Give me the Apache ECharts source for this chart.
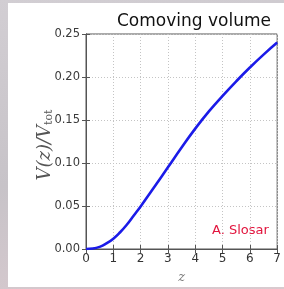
<!DOCTYPE html>
<html lang="en">
<head>
    <meta charset="UTF-8">
    <title>Comoving volume</title>
    <script src="https://cdn.jsdelivr.net/npm/echarts@6/dist/echarts.min.js"></script>
    <style>
        html, body { margin: 0; padding: 0; }
        body {
            width: 284px; height: 289px; overflow: hidden; position: relative;
            background: linear-gradient(170deg, #d2ced3 0%, #c7c3c8 55%, #d9cacf 100%);
        }
        #card { position: absolute; left: 8px; top: 3px; width: 280px; height: 284px; background: #fff; }
        #main { position: absolute; left: 0; top: 0; width: 284px; height: 289px; }
    </style>
</head>
<body>
    <div id="card"></div>
    <div id="main"></div>
    <script>
        var myChart = echarts.init(document.getElementById('main'));

        // redshift and volume fraction
        var zValues = [0, 0.25, 0.5, 0.75, 1, 1.25, 1.5, 1.75, 2, 2.5, 3, 3.5, 4, 4.5, 5, 5.5, 6, 6.5, 7];
        var volFrac = [0, 0.0005, 0.0025, 0.0065, 0.012, 0.0195, 0.0285, 0.039, 0.0495, 0.072, 0.095, 0.118, 0.140, 0.160, 0.178, 0.195, 0.211, 0.226, 0.240];

        var points = [];
        for (var i = 0; i < zValues.length; i++) {
            points.push([zValues[i], volFrac[i]]);
        }

        var gridLine = { show: true, lineStyle: { color: '#c4c4c4', type: [1, 2], width: 1 } };

        var option = {
            animation: false,
            title: {
                text: 'Comoving volume',
                left: 112,
                top: 8,
                textStyle: { fontFamily: 'DejaVu Sans', fontSize: 17, fontWeight: 'normal', color: '#111' }
            },
            grid: {
                left: 86, top: 34, right: 1, bottom: 38,
                show: true, borderColor: '#555', borderWidth: 1
            },
            xAxis: [{
                type: 'value', min: 0, max: 7, interval: 1,
                axisLine: { show: true, lineStyle: { color: '#555' } },
                axisTick: { show: true, inside: true, length: 4, lineStyle: { color: '#555' } },
                axisLabel: { color: '#333', fontSize: 12, fontFamily: 'DejaVu Sans', margin: 4 },
                splitLine: gridLine,
                name: 'z',
                nameLocation: 'middle',
                nameGap: 22,
                nameTextStyle: { fontFamily: 'DejaVu Serif', fontStyle: 'italic', fontSize: 13, color: '#777' }
            }, {
                type: 'value', min: 0, max: 7, interval: 1, position: 'top',
                axisLine: { show: true, lineStyle: { color: '#555' } },
                axisTick: { show: true, inside: true, length: 4, lineStyle: { color: '#555' } },
                axisLabel: { show: false },
                splitLine: { show: false }
            }],
            yAxis: [{
                type: 'value', min: 0, max: 0.25, interval: 0.05,
                axisLine: { show: true, lineStyle: { color: '#555' } },
                axisTick: { show: true, inside: true, length: 4, lineStyle: { color: '#555' } },
                axisLabel: {
                    color: '#3a3a3a', fontSize: 11.5, fontFamily: 'DejaVu Sans', margin: 6,
                    formatter: function (v) { return v.toFixed(2); }
                },
                splitLine: gridLine
            }, {
                type: 'value', min: 0, max: 0.25, interval: 0.05, position: 'right',
                axisLine: { show: true, lineStyle: { color: '#555' } },
                axisTick: { show: true, inside: true, length: 4, lineStyle: { color: '#555' } },
                axisLabel: { show: false },
                splitLine: { show: false }
            }],
            graphic: [{
                // y axis title, placed by hand so it sits closer to the tick labels
                type: 'text',
                x: 45,
                y: 145,
                rotation: Math.PI / 2,
                style: {
                    text: '{a|V(z)/V}{b|tot}',
                    align: 'center',
                    verticalAlign: 'middle',
                    rich: {
                        a: { fontFamily: 'DejaVu Serif', fontStyle: 'italic', fontSize: 18, fill: '#555' },
                        b: { fontFamily: 'DejaVu Serif', fontSize: 11, fill: '#555', padding: [9, 0, 0, 0] }
                    }
                }
            }, {
                type: 'text',
                left: 212,
                top: 224,
                style: { text: 'A. Slosar', fill: '#e2153e', font: '13px "DejaVu Sans"' }
            }],
            series: [{
                type: 'line',
                data: points,
                smooth: true,
                showSymbol: false,
                lineStyle: { color: '#1b1be8', width: 2.6 }
            }]
        };

        myChart.setOption(option);
        window.onresize = function () {
            myChart.resize();
        };
    </script>
</body>
</html>
